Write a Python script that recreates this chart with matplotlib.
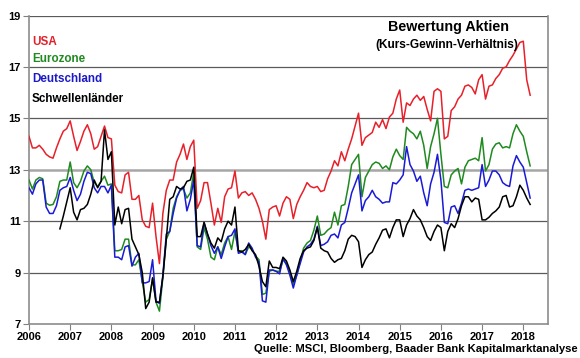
import numpy as np
import matplotlib
matplotlib.use("Agg")
import matplotlib.pyplot as plt

nan = np.nan
start_year = 2006

usa = [
    14.3, 13.85, 13.85, 13.95, 13.8, 13.6, 13.5, 13.45, 13.85, 14.2, 14.5, 14.6,
    14.9, 14.3, 13.75, 14.1, 14.5, 14.75, 14.4, 13.8, 13.9, 14.3, 14.7, 14.25,
    14.2, 12.4, 12.15, 12.1, 12.8, 12.9, 11.85, 11.85, 12.0, 11.05, 10.8, 10.75,
    11.7, 10.4, 9.35, 11.3, 12.2, 12.6, 12.6, 13.3, 13.6, 14.0, 13.4, 13.9,
    14.15, 11.5, 11.8, 12.5, 12.5, 11.7, 10.85, 11.5, 10.95, 11.95, 12.25, 12.3,
    12.95, 11.9, 12.1, 12.15, 12.0, 12.1, 11.85, 11.5, 11.0, 10.3, 11.45, 11.55,
    11.6, 11.2, 11.7, 11.95, 11.85, 11.1, 11.65, 11.95, 12.2, 12.5, 12.35, 12.3,
    12.35, 12.15, 12.2, 12.65, 12.95, 13.35, 13.15, 13.7, 13.35, 13.8, 14.2, 14.7,
    15.2, 13.95, 14.25, 14.35, 14.45, 14.85, 14.65, 14.95, 14.6, 15.05, 15.2, 15.75,
    16.1, 14.85, 15.6, 15.5, 15.75, 15.9, 15.7, 15.85, 15.35, 14.9, 16.05, 16.15,
    16.05, 14.2, 14.3, 15.3, 15.45, 15.75, 15.9, 16.25, 16.3, 16.2, 15.95, 16.5,
    16.7, 15.75, 16.25, 16.3, 16.55, 16.7, 16.95, 17.0, 17.25, 17.45, 17.7, 17.95,
    18.0, 16.5, 15.9,
]

eurozone = [
    12.6, 12.25, 12.6, 12.7, 12.65, 11.7, 11.62, 11.65, 11.95, 12.55, 12.6, 12.6,
    13.3, 12.5, 12.3, 12.55, 12.95, 13.15, 13.0, 12.5, 12.35, 12.55, 12.75, 12.4,
    12.45, 9.85, 9.85, 9.9, 10.3, 10.3, 9.3, 9.3, 9.5, 8.65, 7.85, 7.95,
    8.75, 7.85, 7.5, 8.8, 10.3, 10.6, 11.5, 11.95, 12.2, 12.25, 11.9, 12.1,
    12.9, 10.0, 9.9, 10.75, 10.3, 9.6, 9.5, 10.0, 9.7, 10.15, 10.4, 9.9,
    10.6, 9.85, 9.85, 9.7, 10.0, 9.9, 9.65, 9.5, 8.15, 8.2, 9.05, 9.1,
    9.05, 9.05, 9.5, 9.35, 9.05, 8.55, 8.9, 9.45, 9.95, 10.15, 10.25, 10.65,
    11.2, 10.45, 10.5, 10.65, 10.75, 11.35, 10.85, 11.6, 11.65, 12.35, 13.2, 13.4,
    13.6, 11.95, 12.7, 12.95, 13.2, 13.3, 13.25, 13.05, 13.15, 13.0, 13.5, 13.8,
    13.55, 13.4, 14.65, 14.5, 14.4, 14.2, 14.5, 13.95, 13.05, 13.9, 14.4, 15.0,
    13.6, 12.35, 12.3, 12.8, 12.95, 13.05, 12.45, 13.1, 13.35, 13.4, 13.45, 13.35,
    14.25, 12.95, 13.2, 13.8, 14.0, 14.05, 13.85, 13.9, 13.85, 14.4, 14.75, 14.5,
    14.3, 13.7, 13.15,
]

deutschland = [
    12.3, 12.05, 12.45, 12.6, 12.6, 11.55, 11.3, 11.3, 11.6, 12.2, 12.3, 12.35,
    12.7, 12.2, 11.8, 12.05, 12.55, 12.9, 12.85, 12.3, 12.1, 12.35, 12.35, 12.1,
    12.4, 9.6, 9.6, 9.5, 10.0, 10.05, 9.25, 9.6, 9.75, 8.6, 8.6, 8.65,
    9.5, 7.9, 7.8, 8.9, 10.5, 10.6, 11.3, 11.9, 12.2, 12.35, 11.4, 11.85,
    12.6, 10.05, 10.0, 10.95, 10.5, 10.05, 9.75, 10.0, 9.55, 10.0, 10.4, 10.45,
    10.7, 9.75, 9.8, 9.7, 10.15, 9.95, 9.6, 9.4, 7.9, 7.85, 9.1, 9.1,
    9.05, 8.95, 9.55, 9.3, 8.9, 8.4, 8.9, 9.35, 9.8, 10.0, 10.1, 10.3,
    10.8, 10.05, 10.1, 10.2, 10.45, 10.5, 10.35, 10.85, 10.95, 11.5, 12.1, 12.45,
    12.8, 11.4, 11.8, 11.95, 12.2, 11.95, 11.85, 11.7, 11.75, 11.75, 12.5, 12.45,
    12.6, 12.8, 13.9, 13.2, 12.95, 12.55, 12.75, 12.1, 11.6, 12.45, 12.9, 13.6,
    12.6, 10.95, 10.9, 11.55, 11.6, 11.3, 11.7, 12.2, 12.25, 12.2, 12.25, 12.3,
    13.2, 12.35, 12.6, 12.95, 12.95, 12.8, 12.5, 12.4, 12.35, 13.15, 13.55, 13.3,
    13.1, 12.5, 11.9,
]

schwellenlaender = [
    nan, nan, nan, nan, nan, nan, nan, nan, nan, 10.7, 11.2, 11.75,
    12.3, 11.35, 11.05, 11.45, 11.5, 11.65, 12.05, 12.6, 12.3, 12.55, 14.55, 13.4,
    13.7, 10.85, 11.55, 10.9, 11.45, 11.5, 10.3, 10.0, 9.7, 9.0, 7.6, 7.85,
    8.8, 7.85, 7.85, 8.85, 10.3, 11.85, 11.95, 12.35, 12.25, 12.3, 12.55, 12.6,
    13.1, 10.4, 10.4, 10.95, 10.5, 10.15, 9.95, 10.35, 10.2, 10.7, 11.0, 10.85,
    11.55, 9.85, 9.8, 9.9, 10.1, 9.85, 9.7, 9.25, 8.65, 8.45, 9.45, 9.2,
    9.2, 9.15, 9.6, 9.45, 9.1, 8.65, 9.05, 9.55, 9.85, 9.95, 10.0, 10.25,
    10.75, 9.95, 9.85, 9.8, 9.55, 9.4, 9.5, 9.55, 9.85, 10.3, 10.45, 10.4,
    10.2, 9.2, 9.5, 9.7, 9.8, 10.1, 10.35, 10.65, 10.7, 10.35, 10.75, 11.05,
    11.05, 10.4, 10.85, 11.1, 11.45, 11.2, 11.05, 10.75, 10.4, 10.25, 10.6, 10.85,
    10.75, 9.85, 10.6, 10.9, 10.75, 11.1, 11.6, 11.95, 11.95, 11.75, 11.9, 11.85,
    11.05, 11.05, 11.15, 11.3, 11.4, 11.55, 11.95, 12.0, 11.55, 11.6, 11.95, 12.4,
    12.2, 11.9, 11.65,
]

series_names = ["USA", "Eurozone", "Deutschland", "Schwellenländer"]
series_colors = ["#e8202a", "#1f8a1f", "#1a1ad6", "#000000"]
label_colors = ["#e0202a", "#1f8a1f", "#1a1ac8", "#000000"]
year_ticks = list(range(2006, 2019))
y_ticks = [7, 9, 11, 13, 15, 17, 19]
title_lines = ["Bewertung Aktien", "(Kurs-Gewinn-Verhältnis)"]
source_text = "Quelle: MSCI, Bloomberg, Baader Bank Kapitalmarktanalyse"

plt.rcParams['font.family'] = ['Liberation Sans', 'DejaVu Sans']

fig = plt.figure(figsize=(5.8, 3.58), dpi=100)
fig.patch.set_facecolor("white")
ax = fig.add_axes([29 / 580, 34 / 358, 519 / 580, 308.5 / 358])

n = len(usa)
x = start_year + np.arange(n) / 12.0

# grid lines
for yv in y_ticks[1:]:
    if yv == 13:
        ax.axhline(yv, color="#a6a6a6", lw=1.8, zorder=1)
    else:
        ax.axhline(yv, color="#5a5a5a", lw=0.9, zorder=1)

data = [usa, eurozone, deutschland, schwellenlaender]
for vals, col in zip(data, series_colors):
    ax.plot(x, np.array(vals, dtype=float), color=col, lw=1.1, zorder=3)

ax.set_xlim(2006, 2018.6)
ax.set_ylim(7, 19)
ax.set_xticks(year_ticks)
ax.set_xticklabels([str(y) for y in year_ticks], fontsize=8, fontweight="bold")
ax.set_yticks(y_ticks)
ax.set_yticklabels([str(y) for y in y_ticks], fontsize=8, fontweight="bold")
ax.tick_params(axis="x", direction="out", length=4, width=0.8, color="#808080", pad=2)
ax.tick_params(axis="y", direction="out", length=4, width=0.8, color="#808080", pad=2)

for side in ["left", "bottom", "right"]:
    ax.spines[side].set_color("#8c8c8c")
    ax.spines[side].set_linewidth(1.2)
ax.spines["top"].set_visible(False)

# colored legend text
legend_y = [41.7, 59.5, 79, 98.7]
for name, col, py in zip(series_names, label_colors, legend_y):
    ax.text(32 / 580, 1 - py / 358, name, transform=fig.transFigure,
            color=col, fontsize=8.4, fontweight="bold", va="center", ha="left")

fig.text(449 / 580, 1 - 27 / 358, title_lines[0], fontsize=10.3, fontweight="bold",
         ha="center", va="center")
fig.text(447 / 580, 1 - 45 / 358, title_lines[1], fontsize=8.6, fontweight="bold",
         ha="center", va="center")
fig.text(578 / 580, 1 - 349 / 358, source_text, fontsize=8.1, fontweight="bold",
         ha="right", va="center")

fig.savefig("out.png", dpi=100)
